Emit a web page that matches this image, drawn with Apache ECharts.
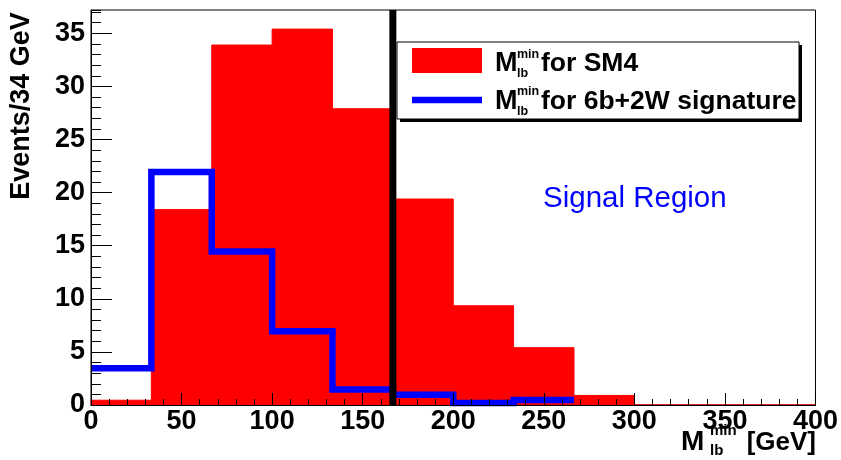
<!DOCTYPE html>
<html>
<head>
<meta charset="utf-8">
<script src="https://cdn.jsdelivr.net/npm/echarts@6/dist/echarts.min.js"></script>
<style>
html,body{margin:0;padding:0;background:#fff;}
#c{width:841px;height:460px;}
</style>
</head>
<body>
<div id="c"></div>
<script>
// ---- data ----
const binEdges = [0, 33.33, 66.67, 100, 133.33, 166.67, 200, 233.33, 266.67, 300, 333.33, 366.67, 400];
const sm4Values = [0.45, 18.4, 33.9, 35.4, 27.9, 19.4, 9.35, 5.4, 0.9, 0, 0, 0];
const sigValues = [3.45, 21.95, 14.45, 6.95, 1.45, 0.97, 0.18, 0.47];
const cutValue = 166.67;
const xMin = 0, xMax = 400, xMajor = 50;
const yMin = 0, yMax = 37.2, yMajor = 5, yMinor = 1;
const legendLabels = ['for SM4', 'for 6b+2W signature'];
const yTitle = 'Events/34 GeV';
const signalText = 'Signal Region';

// ---- build series data ----
const redBins = sm4Values.map((v, i) => [binEdges[i], binEdges[i + 1], v]);
const bluePts = sigValues.map((v, i) => [binEdges[i], v]);
bluePts.push([binEdges[sigValues.length], sigValues[sigValues.length - 1]]);

const FONT = 'Liberation Sans, Arial, Helvetica, sans-serif';
const chart = echarts.init(document.getElementById('c'), null, {renderer: 'canvas'});

function txt(x, yBase, text, size, weight, color, align) {
  return {
    type: 'text', z: 100, x: x, y: yBase - 0.31 * size,
    style: {text: text, font: (weight || 'bold') + ' ' + size + 'px ' + FONT,
      fill: color || '#000', textAlign: align || 'left', textVerticalAlign: 'middle'}
  };
}
function mlb(x, yBase, size, subSize, gap, supUp) {
  return [
    txt(x, yBase, 'M', size),
    txt(x + gap, yBase - supUp, 'min', subSize),
    txt(x + gap, yBase + 5, 'lb', subSize)
  ];
}

const graphics = [];
// legend box with shadow
graphics.push({type: 'rect', z: 90, shape: {x: 400, y: 45, width: 402, height: 77}, style: {fill: '#000'}});
graphics.push({type: 'rect', z: 91, shape: {x: 397, y: 42, width: 402, height: 77}, style: {fill: '#fff', stroke: '#000', lineWidth: 1}});
graphics.push({type: 'rect', z: 95, shape: {x: 412, y: 48, width: 70, height: 25}, style: {fill: '#ff0000'}});
graphics.push({type: 'line', z: 95, shape: {x1: 412, y1: 100, x2: 482, y2: 100}, style: {stroke: '#0000ff', lineWidth: 6.5}});
graphics.push(...mlb(495, 72, 27, 12.5, 22, 14));
graphics.push(txt(541, 72, legendLabels[0], 26.5));
graphics.push(...mlb(495, 110, 27, 12.5, 22, 15));
graphics.push(txt(541, 110, legendLabels[1], 26.5));
// signal region
graphics.push(txt(543, 208, signalText, 29.5, 'normal', '#0000ff'));
// y title
graphics.push({type: 'text', z: 100, x: 22, y: 106, rotation: Math.PI / 2,
  style: {text: yTitle, font: 'bold 27px ' + FONT, fill: '#000', textAlign: 'center', textVerticalAlign: 'middle'}});
// x title
graphics.push(...mlb(681, 451, 28, 15, 29, 15));
graphics.push(txt(816, 451, '[GeV]', 26, 'bold', '#000', 'right'));

const option = {
  animation: false,
  backgroundColor: '#fff',
  grid: {left: 91, right: 24, top: 10, bottom: 55, show: true, borderColor: '#000', borderWidth: 1, backgroundColor: 'transparent'},
  xAxis: [{
    type: 'value', min: xMin, max: xMax, interval: xMajor, z: 10,
    axisLine: {show: true, onZero: false, lineStyle: {color: '#000', width: 1}},
    axisTick: {show: true, inside: true, length: 12, lineStyle: {color: '#000', width: 1}},
    minorTick: {show: true, splitNumber: 5, length: 6, lineStyle: {color: '#000', width: 1}},
    splitLine: {show: false},
    axisLabel: {margin: 3, color: '#000', fontFamily: FONT, fontWeight: 'bold', fontSize: 27}
  }],
  yAxis: [{
    type: 'value', min: yMin, max: yMax, interval: yMajor, z: 10,
    axisLine: {show: true, onZero: false, lineStyle: {color: '#000', width: 1}},
    axisTick: {show: true, inside: true, length: 21, lineStyle: {color: '#000', width: 1}},
    splitLine: {show: false},
    axisLabel: {margin: 6, color: '#000', fontFamily: FONT, fontWeight: 'bold', fontSize: 27, showMaxLabel: false,
      formatter: v => (Math.abs(v / yMajor - Math.round(v / yMajor)) < 1e-6 ? String(v) : '')}
  }, {
    type: 'value', min: yMin, max: yMax, interval: yMinor, z: 10, position: 'left',
    axisLine: {show: false},
    axisTick: {show: true, inside: true, length: 10, lineStyle: {color: '#000', width: 1}},
    splitLine: {show: false},
    axisLabel: {show: false}
  }],
  series: [{
    type: 'custom', z: 2,
    data: redBins,
    renderItem: function (params, api) {
      const p0 = api.coord([api.value(0), api.value(2)]);
      const p1 = api.coord([api.value(1), 0]);
      return {type: 'rect', shape: {x: p0[0], y: p0[1], width: p1[0] - p0[0], height: p1[1] - p0[1]},
        style: {fill: '#ff0000', stroke: '#ff0000', lineWidth: 1}};
    },
    encode: {x: [0, 1], y: 2}
  }, {
    type: 'line', z: 3, step: 'end', data: bluePts, showSymbol: false, clip: false,
    lineStyle: {color: '#0000ff', width: 6.5, join: 'miter', cap: 'butt'}
  }, {
    type: 'line', z: 4, data: [[cutValue, yMin], [cutValue, yMax]], showSymbol: false,
    lineStyle: {color: '#000', width: 7, cap: 'butt'}
  }],
  graphic: graphics
};
chart.setOption(option);
</script>
</body>
</html>
